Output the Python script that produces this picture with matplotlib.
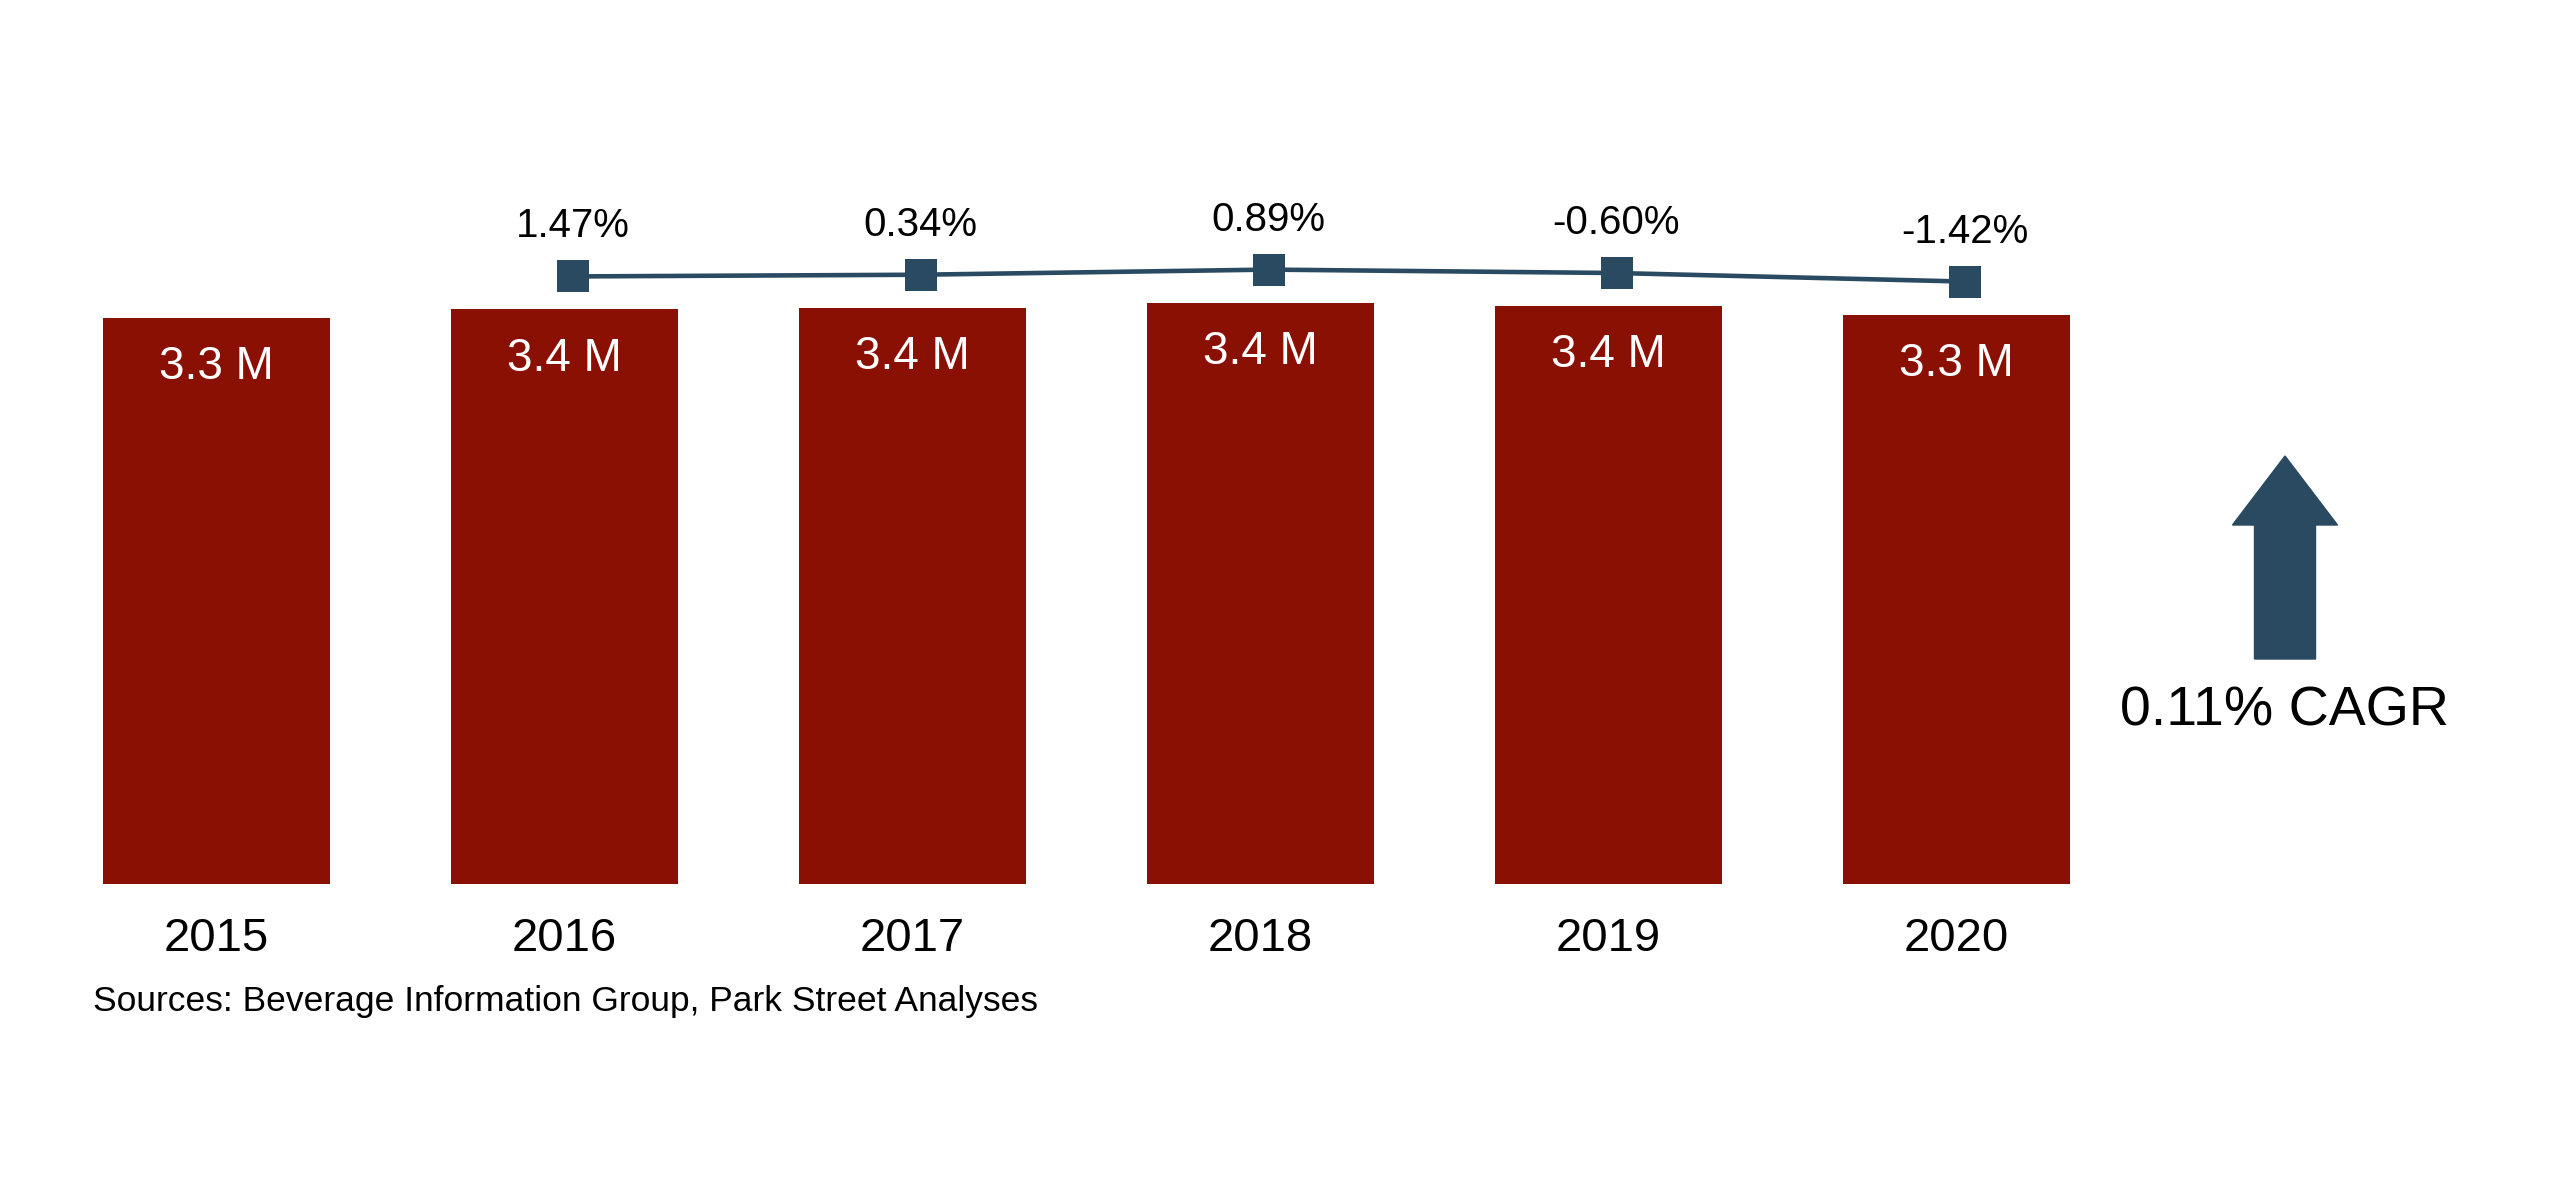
"""
Annual volume bars with year-over-year growth line and CAGR callout.
"""

import matplotlib.pyplot as plt
import matplotlib.transforms as mtransforms
from matplotlib.patches import FancyArrow

plt.rcParams['font.family'] = ['Liberation Sans', 'DejaVu Sans']

# Chart data
years = ['2015', '2016', '2017', '2018', '2019', '2020']
volume_m = [3.31, 3.36, 3.37, 3.40, 3.38, 3.33]
volume_labels = ['3.3 M', '3.4 M', '3.4 M', '3.4 M', '3.4 M', '3.3 M']
growth_labels = ['1.47%', '0.34%', '0.89%', '-0.60%', '-1.42%']
cagr_label = '0.11% CAGR'
source_text = 'Sources: Beverage Information Group, Park Street Analyses'

BAR_COLOR = '#8B1004'
LINE_COLOR = '#2A4A61'

W, H = 2560, 1200
fig = plt.figure(figsize=(W / 100, H / 100), dpi=100)
fig.patch.set_facecolor('white')

# axes placed in pixels
ax = fig.add_axes([42.5 / W, 316 / H, 2088 / W, 784 / H])
x = list(range(len(years)))
ymax = 784 / 171.0
ax.bar(x, volume_m, width=0.65, color=BAR_COLOR)
ax.set_xlim(-0.5, len(years) - 0.5)
ax.set_ylim(0, ymax)

for xi, v, lab in zip(x, volume_m, volume_labels):
    ax.annotate(lab, (xi, v), xytext=(0, -35.5), textcoords='offset points',
                ha='center', va='center', color='white', fontsize=33)

# growth line sits a bit above the bar tops, nudged slightly right
shift = 0.193
ax2 = ax.twinx()
ax2.set_ylim(-shift, ymax - shift)
nudge = ax2.transData + mtransforms.ScaledTranslation(0.08, 0, fig.dpi_scale_trans)
ax2.plot(x[1:], volume_m[1:], color=LINE_COLOR, linewidth=3.3,
         marker='s', markersize=23, markeredgewidth=0, transform=nudge)
for xi, v, lab in zip(x[1:], volume_m[1:], growth_labels):
    ax2.annotate(lab, (xi, v), xycoords=nudge, xytext=(0, 36),
                 textcoords='offset points', ha='center', va='center',
                 color='black', fontsize=29)

for a in (ax, ax2):
    for s in a.spines.values():
        s.set_visible(False)
    a.set_yticks([])
ax.set_xticks(x)
ax.set_xticklabels(years, fontsize=34)
ax.tick_params(axis='x', length=0, pad=24)

fig.text(93 / W, 1 - 1002 / H, source_text, fontsize=25.5,
         ha='left', va='center')

# CAGR arrow and text
arrow = FancyArrow(22.85, 5.41, 0, 2.03, width=0.61, head_width=1.05,
                   head_length=0.69, length_includes_head=True,
                   color=LINE_COLOR, transform=fig.dpi_scale_trans)
fig.add_artist(arrow)
fig.text(2284 / W, 1 - 711 / H, cagr_label, fontsize=40,
         ha='center', va='center')

fig.savefig('out.png', dpi=100, facecolor='white')
